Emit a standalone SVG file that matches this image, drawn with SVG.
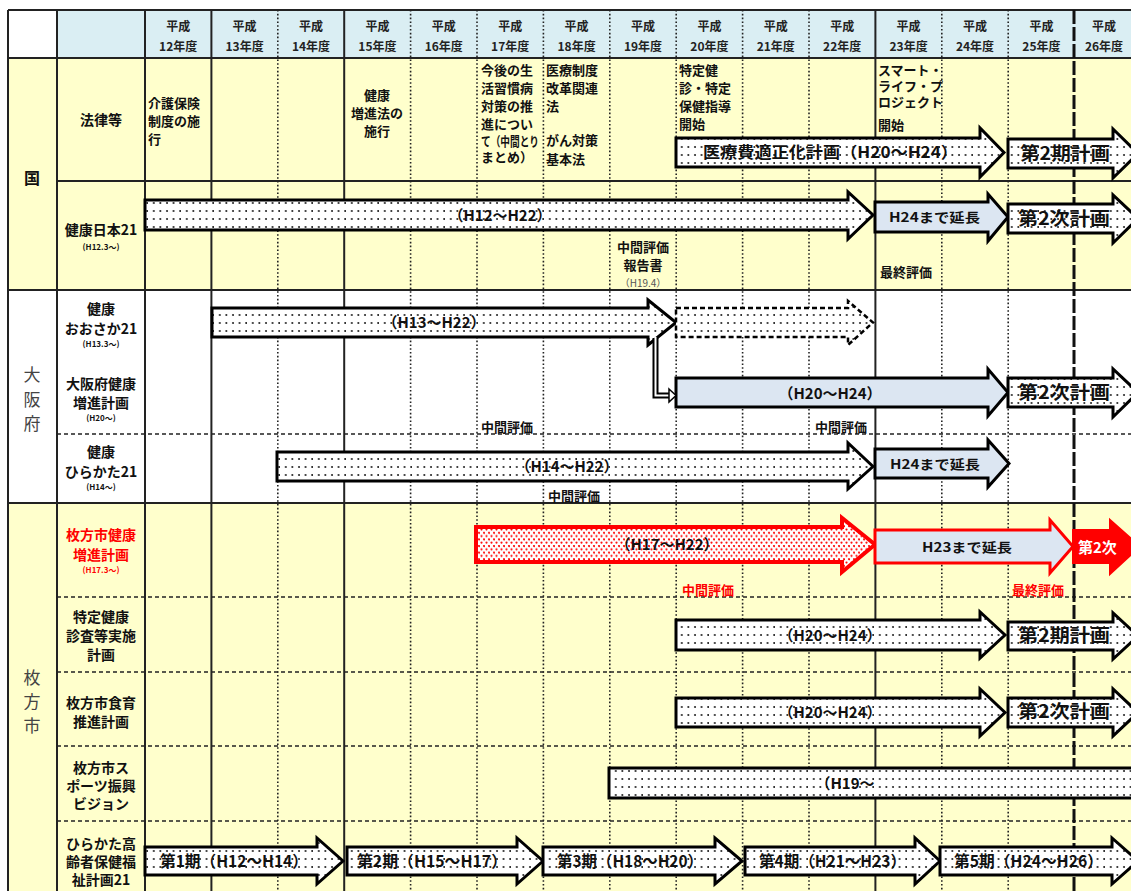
<svg xmlns="http://www.w3.org/2000/svg" width="1131" height="891" viewBox="0 0 1131 891">
<defs>
<pattern id="dots" width="6.6" height="8" patternUnits="userSpaceOnUse"><rect width="6.6" height="8" fill="#fff"/><circle cx="2" cy="3" r="0.9" fill="#000"/></pattern>
<pattern id="rdots" width="5" height="6.6" patternUnits="userSpaceOnUse"><rect width="5" height="6.6" fill="#fff"/><circle cx="1.5" cy="1.5" r="1.1" fill="#f00"/><circle cx="4" cy="4.8" r="1.1" fill="#f00"/></pattern>
</defs>
<style>
text{font-family:"Noto Sans CJK JP","Noto Sans CJK SC",sans-serif;fill:#111}
.b{font-weight:bold}
.hd{font-size:12px;font-weight:bold;text-anchor:middle;fill:#222}
.lab{font-size:14px;font-weight:bold;text-anchor:middle}
.sm{font-size:8px;font-weight:bold;text-anchor:middle}
.note{font-size:13px;font-weight:bold}
.ev{font-size:13px;font-weight:bold}
.reg{font-size:17px;text-anchor:middle;fill:#444}
.in{font-size:15px;font-weight:bold;text-anchor:middle}
.big{font-size:18px;font-weight:bold}
.per{font-size:16px;font-weight:bold}
.solid{stroke:#222;stroke-width:2;fill:none}
.dot{stroke:#222;stroke-width:1.6;stroke-dasharray:1.6 2.2;fill:none}
.dash{stroke:#222;stroke-width:1.6;stroke-dasharray:4 3;fill:none}
.arr{fill:url(#dots);stroke:#000;stroke-width:3;stroke-linejoin:miter}
.blue{fill:#DCE6F2;stroke:#000;stroke-width:3}
</style>
<g id="background">
<rect x="8" y="10" width="1123" height="48" fill="#DAEEF3"/>
<rect x="8" y="10" width="49" height="48" fill="#fff"/>
<rect x="8" y="58" width="1123" height="232" fill="#FFFFCC"/>
<rect x="8" y="290" width="1123" height="213" fill="#fff"/>
<rect x="8" y="503" width="1123" height="388" fill="#FFFFCC"/>
</g>
<g id="grid">
<line class="solid" x1="8" y1="10" x2="1131" y2="10" stroke-width="2.5"/>
<line class="solid" x1="8" y1="58" x2="1131" y2="58"/>
<line class="solid" x1="57" y1="181" x2="1131" y2="181"/>
<line class="solid" x1="8" y1="290" x2="1131" y2="290" stroke-width="3"/>
<line class="dash" x1="57" y1="434" x2="1131" y2="434"/>
<line class="solid" x1="8" y1="503" x2="1131" y2="503" stroke-width="3"/>
<line class="dash" x1="57" y1="597" x2="1131" y2="597"/>
<line class="dash" x1="57" y1="672" x2="1131" y2="672"/>
<line class="dash" x1="57" y1="746" x2="1131" y2="746"/>
<line class="dash" x1="57" y1="821" x2="1131" y2="821"/>
<line class="solid" x1="8" y1="10" x2="8" y2="891" stroke-width="2.5"/>
<line class="solid" x1="57" y1="10" x2="57" y2="891"/>
<line class="solid" x1="145" y1="10" x2="145" y2="891"/>
<line class="solid" x1="211.4" y1="10" x2="211.4" y2="891"/>
<line class="dot" x1="277.8" y1="10" x2="277.8" y2="891"/>
<line class="solid" x1="344.2" y1="10" x2="344.2" y2="891"/>
<line class="dot" x1="410.6" y1="10" x2="410.6" y2="891"/>
<line class="dot" x1="477" y1="10" x2="477" y2="891"/>
<line class="dot" x1="543.4" y1="10" x2="543.4" y2="891"/>
<line class="dot" x1="609.8" y1="10" x2="609.8" y2="891"/>
<line class="dot" x1="676.2" y1="10" x2="676.2" y2="891"/>
<line class="dot" x1="742.6" y1="10" x2="742.6" y2="891"/>
<line class="dot" x1="809" y1="10" x2="809" y2="891"/>
<line class="solid" x1="875.4" y1="10" x2="875.4" y2="891"/>
<line class="dot" x1="941.8" y1="10" x2="941.8" y2="891"/>
<line class="dot" x1="1008.2" y1="10" x2="1008.2" y2="891"/>
<line x1="1074" y1="10" x2="1074" y2="891" stroke="#111" stroke-width="3" stroke-dasharray="14 3"/>
</g>
<g id="header">
<text class="hd" x="178.2" y="31">平成</text><text class="hd" x="178.2" y="51">12年度</text>
<text class="hd" x="244.6" y="31">平成</text><text class="hd" x="244.6" y="51">13年度</text>
<text class="hd" x="311" y="31">平成</text><text class="hd" x="311" y="51">14年度</text>
<text class="hd" x="377.4" y="31">平成</text><text class="hd" x="377.4" y="51">15年度</text>
<text class="hd" x="443.8" y="31">平成</text><text class="hd" x="443.8" y="51">16年度</text>
<text class="hd" x="510.2" y="31">平成</text><text class="hd" x="510.2" y="51">17年度</text>
<text class="hd" x="576.6" y="31">平成</text><text class="hd" x="576.6" y="51">18年度</text>
<text class="hd" x="643" y="31">平成</text><text class="hd" x="643" y="51">19年度</text>
<text class="hd" x="709.4" y="31">平成</text><text class="hd" x="709.4" y="51">20年度</text>
<text class="hd" x="775.8" y="31">平成</text><text class="hd" x="775.8" y="51">21年度</text>
<text class="hd" x="842.2" y="31">平成</text><text class="hd" x="842.2" y="51">22年度</text>
<text class="hd" x="908.6" y="31">平成</text><text class="hd" x="908.6" y="51">23年度</text>
<text class="hd" x="975" y="31">平成</text><text class="hd" x="975" y="51">24年度</text>
<text class="hd" x="1041.4" y="31">平成</text><text class="hd" x="1041.4" y="51">25年度</text>
<text class="hd" x="1104" y="31">平成</text><text class="hd" x="1104" y="51">26年度</text>
</g>
<g id="region-labels">
<text x="32" y="184" font-size="16" font-weight="bold" text-anchor="middle">国</text>
<text class="reg" x="32" y="381">大</text><text class="reg" x="32" y="406">阪</text><text class="reg" x="32" y="430">府</text>
<text class="reg" x="32" y="684" fill="#333">枚</text><text class="reg" x="32" y="708">方</text><text class="reg" x="32" y="732">市</text>
</g>
<g id="item-labels">
<text class="lab" x="101" y="125">法律等</text>
<text class="lab" x="101" y="235">健康日本21</text><text class="sm" x="101" y="250">(H12.3～)</text>
<text class="lab" x="101" y="314">健康</text><text class="lab" x="101" y="334">おおさか21</text><text class="sm" x="101" y="347">(H13.3～)</text>
<text class="lab" x="101" y="389">大阪府健康</text><text class="lab" x="101" y="408">増進計画</text><text class="sm" x="101" y="421">(H20～)</text>
<text class="lab" x="101" y="457">健康</text><text class="lab" x="101" y="477">ひらかた21</text><text class="sm" x="101" y="490">(H14～)</text>
<text class="lab" x="101" y="540" style="fill:#f00">枚方市健康</text><text class="lab" x="101" y="560" style="fill:#f00">増進計画</text><text class="sm" x="101" y="573" style="fill:#f00">(H17.3～)</text>
<text class="lab" x="101" y="622">特定健康</text><text class="lab" x="101" y="641">診査等実施</text><text class="lab" x="101" y="660">計画</text>
<text class="lab" x="101" y="708">枚方市食育</text><text class="lab" x="101" y="727">推進計画</text>
<text class="lab" x="101" y="773">枚方市ス</text><text class="lab" x="101" y="791">ポーツ振興</text><text class="lab" x="101" y="809">ビジョン</text>
<text class="lab" x="101" y="849">ひらかた高</text><text class="lab" x="101" y="867">齢者保健福</text><text class="lab" x="101" y="885">祉計画21</text>
</g>
<g id="notes">
<text class="note" x="148" y="108">介護保険</text><text class="note" x="148" y="126">制度の施</text><text class="note" x="148" y="144">行</text>
<text class="note" x="377" y="100" text-anchor="middle">健康</text><text class="note" x="377" y="118" text-anchor="middle">増進法の</text><text class="note" x="377" y="136" text-anchor="middle">施行</text>
<text class="note" x="481" y="75">今後の生</text><text class="note" x="481" y="93">活習慣病</text><text class="note" x="481" y="111">対策の推</text><text class="note" x="481" y="129">進につい</text>
<text class="note" x="481" y="146" font-size="10.5" textLength="58" lengthAdjust="spacingAndGlyphs">て（中間とり</text><text class="note" x="481" y="162" font-size="10.5">まとめ）</text>
<text class="note" x="546" y="75">医療制度</text><text class="note" x="546" y="93">改革関連</text><text class="note" x="546" y="111">法</text>
<text class="note" x="546" y="145">がん対策</text><text class="note" x="546" y="164">基本法</text>
<text class="note" x="679" y="75">特定健</text><text class="note" x="679" y="93">診・特定</text><text class="note" x="679" y="111">保健指導</text><text class="note" x="679" y="129">開始</text>
<text class="note" x="878" y="75" font-size="12">スマート・</text><text class="note" x="878" y="91" font-size="12">ライフ・プ</text><text class="note" x="878" y="107" font-size="12">ロジェクト</text><text class="note" x="878" y="130" font-size="12">開始</text>
<text class="ev" x="643" y="252" text-anchor="middle">中間評価</text><text class="ev" x="643" y="270" text-anchor="middle">報告書</text><text x="643" y="287" font-size="10" text-anchor="middle" style="fill:#555">（H19.4）</text>
<text class="ev" x="880" y="277">最終評価</text>
<text class="ev" x="481" y="432">中間評価</text>
<text class="ev" x="815" y="432">中間評価</text>
<text class="ev" x="548" y="501">中間評価</text>
<text class="ev" x="682" y="595" style="fill:#f00">中間評価</text>
<text class="ev" x="1012" y="595" style="fill:#f00">最終評価</text>
</g>
<g id="kuni-iryohi">
<path class="arr" d="M676 138H980V128L1004 152.5L980 177V167H676Z"/>
<text class="per" x="703" y="158" textLength="255" lengthAdjust="spacingAndGlyphs">医療費適正化計画（H20～H24）</text>
</g>
<g id="kuni-iryohi-2">
<path class="arr" d="M1008 139H1113V129L1138 153.5L1113 178V168H1008Z"/>
<text class="big" x="1020" y="160" textLength="90" lengthAdjust="spacingAndGlyphs">第2期計画</text>
</g>
<g id="kenko-nippon21">
<path class="arr" d="M145 200H848V192L873 215L848 239V230H145Z"/>
<text class="in" x="500" y="221">（H12～H22）</text>
</g>
<g id="kenko-nippon21-ext">
<path class="blue" d="M875 202H988V194L1008 217L988 241V232H875Z"/>
<text class="b" x="889" y="222" font-size="13" textLength="91" lengthAdjust="spacingAndGlyphs">H24まで延長</text>
</g>
<g id="kenko-nippon21-2">
<path class="arr" d="M1008 204H1113V195L1138 218.5L1113 243V233H1008Z"/>
<text class="big" x="1018" y="225" textLength="92" lengthAdjust="spacingAndGlyphs">第2次計画</text>
</g>
<g id="osaka21">
<path class="arr" d="M212 308H648V300L676 322.5L648 345V337H212Z"/>
<text class="in" x="434" y="328">（H13～H22）</text>
</g>
<g id="osaka21-cont">
<path d="M676 308H848V301L873 322.5L848 345V337H676Z" fill="url(#dots)" stroke="#000" stroke-width="2.5" stroke-dasharray="5 3"/>
</g>
<g id="osaka-zoshin">
<path class="blue" d="M676 378H988V369L1008 392.5L988 416V407H676Z"/>
<text class="in" x="830" y="399">（H20～H24）</text>
</g>
<g id="osaka-zoshin-2">
<path class="arr" d="M1008 378H1113V369L1138 392.5L1113 417V407H1008Z"/>
<text class="big" x="1018" y="399" textLength="92" lengthAdjust="spacingAndGlyphs">第2次計画</text>
</g>
<g id="hirakata21">
<path class="arr" d="M277 452H848V443L873 466.5L848 489V481H277Z"/>
<text class="in" x="567" y="472">（H14～H22）</text>
</g>
<g id="hirakata21-ext">
<path class="blue" d="M875 449H988V440L1009 463.5L988 487V478H875Z"/>
<text class="b" x="890" y="469" font-size="13" textLength="90" lengthAdjust="spacingAndGlyphs">H24まで延長</text>
</g>
<g id="hirakata-zoshin">
<path d="M476 527H842V518L875 544.5L842 572V562H476Z" fill="url(#rdots)" stroke="#f00" stroke-width="4"/>
<text class="in" x="667" y="550" font-weight="normal">（H17～H22）</text>
</g>
<g id="hirakata-zoshin-ext">
<path d="M875 530H1050V520L1073 546.5L1050 573V563H875Z" fill="#DCE6F2" stroke="#f00" stroke-width="3"/>
<text class="b" x="922" y="552" font-size="13" textLength="90" lengthAdjust="spacingAndGlyphs">H23まで延長</text>
</g>
<g id="hirakata-zoshin-2">
<path d="M1073 530H1110V520L1140 546.5L1110 574V563H1073Z" fill="#f00" stroke="#f00" stroke-width="2"/>
<text class="b" x="1078" y="553" font-size="15" style="fill:#fff">第2次</text>
</g>
<g id="tokutei">
<path class="arr" d="M676 620H980V612L1005 635L980 658V650H676Z"/>
<text class="in" x="830" y="641">（H20～H24）</text>
</g>
<g id="tokutei-2">
<path class="arr" d="M1008 622H1113V613L1138 636L1113 659V650H1008Z"/>
<text class="big" x="1018" y="642" textLength="92" lengthAdjust="spacingAndGlyphs">第2期計画</text>
</g>
<g id="shokuiku">
<path class="arr" d="M676 698H980V689L1005 712.5L980 736V727H676Z"/>
<text class="in" x="830" y="718">（H20～H24）</text>
</g>
<g id="shokuiku-2">
<path class="arr" d="M1008 698H1113V689L1138 712.5L1113 736V727H1008Z"/>
<text class="big" x="1018" y="718" textLength="92" lengthAdjust="spacingAndGlyphs">第2次計画</text>
</g>
<g id="sports">
<rect class="arr" x="609" y="768" width="530" height="30"/>
<text class="in" x="845" y="789">（H19～</text>
</g>
<g id="korei-1">
<path class="arr" d="M145 847H317V838L343 861L317 884V875H145Z"/>
<text class="per" x="160" y="867" textLength="148" lengthAdjust="spacingAndGlyphs">第1期（H12～H14）</text>
</g>
<g id="korei-2">
<path class="arr" d="M347 847H517V838L543 861L517 884V875H347Z"/>
<text class="per" x="357" y="867" textLength="150" lengthAdjust="spacingAndGlyphs">第2期（H15～H17）</text>
</g>
<g id="korei-3">
<path class="arr" d="M543 847H715V838L742 861L715 884V875H543Z"/>
<text class="per" x="557" y="867" textLength="146" lengthAdjust="spacingAndGlyphs">第3期（H18～H20）</text>
</g>
<g id="korei-4">
<path class="arr" d="M745 847H915V838L940 861L915 884V875H745Z"/>
<text class="per" x="759" y="867" textLength="147" lengthAdjust="spacingAndGlyphs">第4期（H21～H23）</text>
</g>
<g id="korei-5">
<path class="arr" d="M940 847H1112V838L1138 861L1112 884V875H940Z"/>
<text class="per" x="954" y="867" textLength="149" lengthAdjust="spacingAndGlyphs">第5期（H24～H26）</text>
</g>
<g id="connectors">
<polyline points="655.5,338 655.5,395.5 670,395.5" fill="none" stroke="#000" stroke-width="6"/>
<polyline points="655.5,337 655.5,395.5 671,395.5" fill="none" stroke="#fff" stroke-width="2"/>
<path d="M669 389L676 395.5L669 402Z" fill="#fff" stroke="#000" stroke-width="1.5"/>
</g>
</svg>
